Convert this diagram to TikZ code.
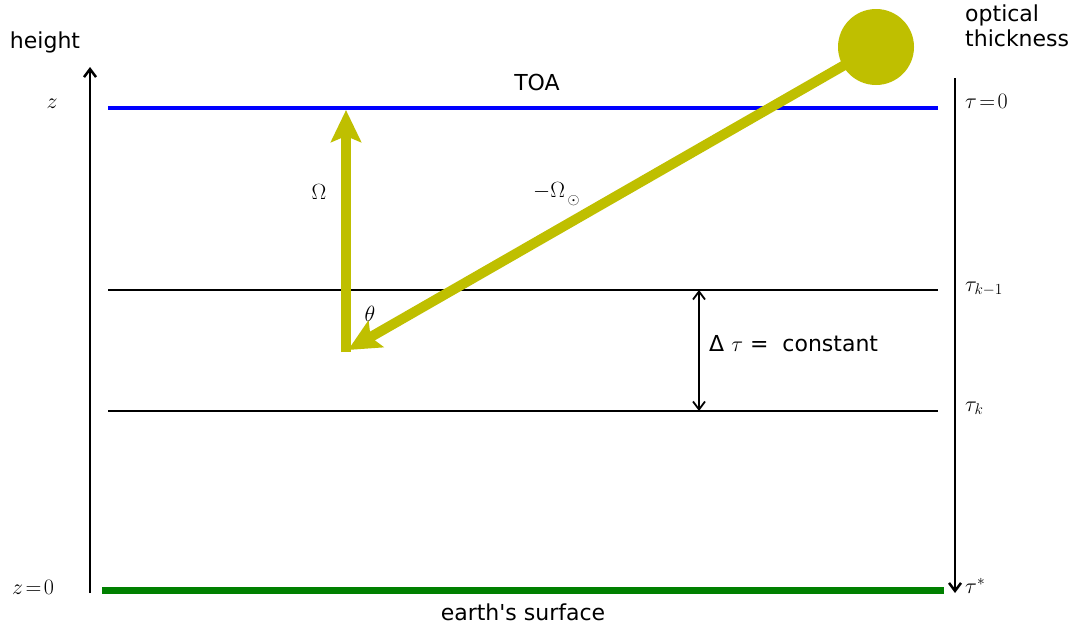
\RequirePackage{fix-cm}
\documentclass[tikz,border=0pt]{standalone}
\usepackage{fontspec}
\setmainfont{DejaVu Sans}
\usetikzlibrary{arrows.meta}
\definecolor{sunc}{RGB}{191,191,0}
\definecolor{toab}{RGB}{0,0,255}
\definecolor{earthg}{RGB}{0,128,0}
\tikzset{mybarb/.tip={Straight Barb[length=8pt,width=12pt]}}
\begin{document}
\begin{tikzpicture}[x=1pt,y=-1pt,
  lbl/.style={font=\fontsize{22}{26}\selectfont, inner sep=0pt},
  mlbl/.style={font=\fontsize{22}{26}\selectfont, inner sep=0pt, anchor=base west},
  axis/.style={black, line width=2.5pt},
  layer/.style={black, line width=1.8pt},
  ray/.style={sunc, line width=10pt, -{Stealth[length=32pt,width=30pt,inset=6pt]}}]
\useasboundingbox (0,0) rectangle (1075,629);
% axes
\coordinate (zb) at (90,593);
\coordinate (zt) at (90,67);
\draw[axis, -{mybarb}] (zb) -- (zt);
\coordinate (tt) at (955,78);
\coordinate (tb) at (955,593);
\draw[axis, -{mybarb}] (tt) -- (tb);
% layers
\coordinate (toaL) at (108,108); \coordinate (toaR) at (938,108);
\draw[toab, line width=4pt] (toaL) -- (toaR);
\coordinate (k1L) at (108,290); \coordinate (k1R) at (938,290);
\draw[layer] (k1L) -- (k1R);
\coordinate (kL) at (108,411); \coordinate (kR) at (938,411);
\draw[layer] (kL) -- (kR);
\coordinate (eL) at (102,590); \coordinate (eR) at (944,590);
\draw[earthg, line width=7pt] (eL) -- (eR);
% delta tau arrow
\coordinate (dtA) at (699,290); \coordinate (dtB) at (699,411);
\draw[layer, {mybarb}-{mybarb}] (dtA) -- (dtB);
% sun and rays
\node[circle, fill=sunc, minimum size=76pt, inner sep=0pt] (sun) at (876,47) {};
\coordinate (p) at (348,350);
\coordinate (pb) at (346,352);
\coordinate (omt) at (346,110);
\draw[ray] (sun.center) -- (p);
\draw[ray] (pb) -- (omt);
% labels
\node[lbl, anchor=base] (hgt) at (45,48) {height};
\node[lbl, anchor=base west] (opt1) at (965,21) {optical};
\node[lbl, anchor=base west] (opt2) at (965,46) {thickness};
\node[lbl, anchor=base] (toa) at (537,90) {TOA};
\node[lbl, anchor=base] (earth) at (523,620) {earth\textquotesingle s surface};
\node[lbl, anchor=base west] (dt) at (709,351) {Δ $\tau$ =\ \ constant};
\node[lbl, anchor=base] (zl) at (52,108) {$z$};
\node[mlbl] (z0) at (12,594) {$z\mkern2mu{=}\mkern2mu0$};
\node[mlbl] (t0) at (965,108) {$\tau\mkern2mu{=}\mkern2mu0$};
\node[mlbl] (tk1) at (965,291) {$\tau_{k-1}$};
\node[mlbl] (tk) at (965,411) {$\tau_{k}$};
\node[mlbl] (ts) at (965,593) {$\tau^{*}$};
\node[lbl, anchor=base] (om) at (319,199) {$\Omega$};
\node[lbl, anchor=base] (th) at (370,321) {$\theta$};
\node[mlbl] (oms) at (533,197) {$-\Omega_{\mkern3mu\lower4pt\hbox{$\scriptstyle\odot$}}$};
\end{tikzpicture}
\end{document}
